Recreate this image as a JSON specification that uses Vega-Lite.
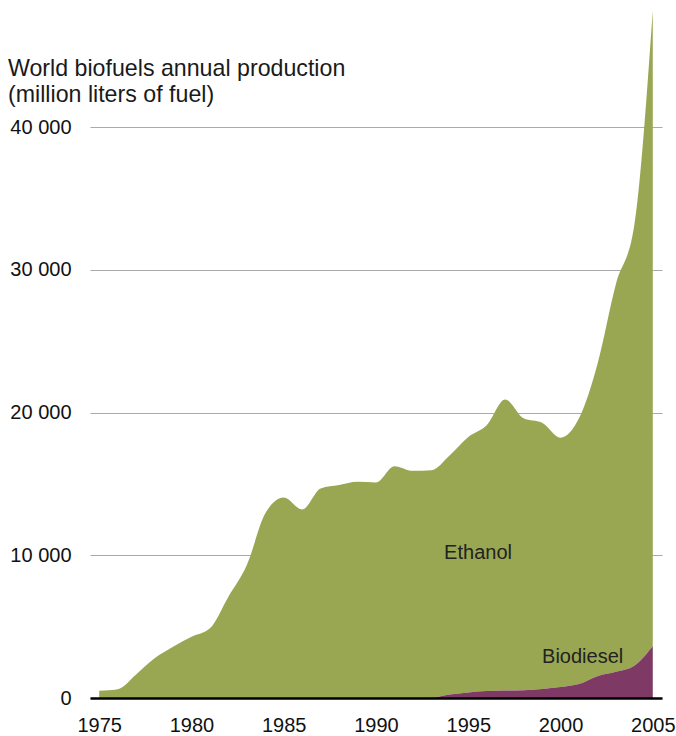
{
  "$schema": "https://vega.github.io/schema/vega-lite/v6.json",
  "autosize": "none",
  "width": 572,
  "height": 692,
  "padding": {"left": 90, "top": 6, "right": 14, "bottom": 38},
  "background": "white",
  "config": {
    "view": {"stroke": null},
    "font": "Liberation Sans"
  },
  "title": {
    "text": ["World biofuels annual production", "(million liters of fuel)"],
    "anchor": "start",
    "frame": "group",
    "orient": "top",
    "offset": 0,
    "dx": -82,
    "dy": 101,
    "fontSize": 23.2,
    "fontWeight": "normal",
    "font": "Liberation Sans",
    "color": "#1a1a1a",
    "lineHeight": 26
  },
  "datasets": {
    "fuel": [
      {"year": 1975, "fuel": "Ethanol", "value": 512},
      {"year": 1976, "fuel": "Ethanol", "value": 620},
      {"year": 1977, "fuel": "Ethanol", "value": 1650},
      {"year": 1978, "fuel": "Ethanol", "value": 2780},
      {"year": 1979, "fuel": "Ethanol", "value": 3590},
      {"year": 1980, "fuel": "Ethanol", "value": 4290},
      {"year": 1981, "fuel": "Ethanol", "value": 4880},
      {"year": 1982, "fuel": "Ethanol", "value": 7100},
      {"year": 1983, "fuel": "Ethanol", "value": 9320},
      {"year": 1984, "fuel": "Ethanol", "value": 12940},
      {"year": 1985, "fuel": "Ethanol", "value": 14060},
      {"year": 1986, "fuel": "Ethanol", "value": 13220},
      {"year": 1987, "fuel": "Ethanol", "value": 14690},
      {"year": 1988, "fuel": "Ethanol", "value": 14930},
      {"year": 1989, "fuel": "Ethanol", "value": 15150},
      {"year": 1990, "fuel": "Ethanol", "value": 15110},
      {"year": 1991, "fuel": "Ethanol", "value": 16250},
      {"year": 1992, "fuel": "Ethanol", "value": 15920},
      {"year": 1993, "fuel": "Ethanol", "value": 15940},
      {"year": 1994, "fuel": "Ethanol", "value": 16770},
      {"year": 1995, "fuel": "Ethanol", "value": 17910},
      {"year": 1996, "fuel": "Ethanol", "value": 18630},
      {"year": 1997, "fuel": "Ethanol", "value": 20400},
      {"year": 1998, "fuel": "Ethanol", "value": 19060},
      {"year": 1999, "fuel": "Ethanol", "value": 18660},
      {"year": 2000, "fuel": "Ethanol", "value": 17470},
      {"year": 2001, "fuel": "Ethanol", "value": 18620},
      {"year": 2002, "fuel": "Ethanol", "value": 21870},
      {"year": 2003, "fuel": "Ethanol", "value": 27160},
      {"year": 2004, "fuel": "Ethanol", "value": 30890},
      {"year": 2005, "fuel": "Ethanol", "value": 44560},
      {"year": 1975, "fuel": "Biodiesel", "value": 0},
      {"year": 1976, "fuel": "Biodiesel", "value": 0},
      {"year": 1977, "fuel": "Biodiesel", "value": 0},
      {"year": 1978, "fuel": "Biodiesel", "value": 0},
      {"year": 1979, "fuel": "Biodiesel", "value": 0},
      {"year": 1980, "fuel": "Biodiesel", "value": 0},
      {"year": 1981, "fuel": "Biodiesel", "value": 0},
      {"year": 1982, "fuel": "Biodiesel", "value": 0},
      {"year": 1983, "fuel": "Biodiesel", "value": 0},
      {"year": 1984, "fuel": "Biodiesel", "value": 0},
      {"year": 1985, "fuel": "Biodiesel", "value": 0},
      {"year": 1986, "fuel": "Biodiesel", "value": 0},
      {"year": 1987, "fuel": "Biodiesel", "value": 0},
      {"year": 1988, "fuel": "Biodiesel", "value": 0},
      {"year": 1989, "fuel": "Biodiesel", "value": 0},
      {"year": 1990, "fuel": "Biodiesel", "value": 0},
      {"year": 1991, "fuel": "Biodiesel", "value": 0},
      {"year": 1992, "fuel": "Biodiesel", "value": 0},
      {"year": 1993, "fuel": "Biodiesel", "value": 30},
      {"year": 1994, "fuel": "Biodiesel", "value": 250},
      {"year": 1995, "fuel": "Biodiesel", "value": 390},
      {"year": 1996, "fuel": "Biodiesel", "value": 490},
      {"year": 1997, "fuel": "Biodiesel", "value": 520},
      {"year": 1998, "fuel": "Biodiesel", "value": 540},
      {"year": 1999, "fuel": "Biodiesel", "value": 630},
      {"year": 2000, "fuel": "Biodiesel", "value": 770},
      {"year": 2001, "fuel": "Biodiesel", "value": 980},
      {"year": 2002, "fuel": "Biodiesel", "value": 1530},
      {"year": 2003, "fuel": "Biodiesel", "value": 1840},
      {"year": 2004, "fuel": "Biodiesel", "value": 2260},
      {"year": 2005, "fuel": "Biodiesel", "value": 3640}
    ],
    "labels": [
      {"year": 1995.53, "value": 10160, "label": "Ethanol"},
      {"year": 2001.2, "value": 2840, "label": "Biodiesel"}
    ]
  },
  "layer": [
    {
      "data": {"name": "fuel"},
      "mark": {"type": "area", "interpolate": "monotone"},
      "encoding": {
        "x": {
          "field": "year",
          "type": "quantitative",
          "scale": {"domain": [1974.5, 2005.5], "nice": false, "zero": false},
          "axis": {
            "title": null,
            "values": [1975, 1980, 1985, 1990, 1995, 2000, 2005],
            "format": "d",
            "grid": false,
            "ticks": false,
            "tickSize": 0,
            "domain": true,
            "domainColor": "#000000",
            "domainWidth": 2.5,
            "labelFontSize": 20,
            "labelFont": "Liberation Sans",
            "labelColor": "#111111",
            "labelPadding": 17,
            "zindex": 1
          }
        },
        "y": {
          "field": "value",
          "type": "quantitative",
          "stack": "zero",
          "scale": {"domain": [0, 48500], "nice": false},
          "axis": {
            "title": null,
            "values": [0, 10000, 20000, 30000, 40000],
            "labelExpr": "replace(format(datum.value, ','), ',', ' ')",
            "grid": true,
            "gridColor": "#aaaaaa",
            "gridWidth": 1.2,
            "ticks": false,
            "tickSize": 0,
            "domain": false,
            "labelFontSize": 20,
            "labelFont": "Liberation Sans",
            "labelColor": "#111111",
            "labelPadding": 19,
            "zindex": 0
          }
        },
        "color": {
          "field": "fuel",
          "type": "nominal",
          "scale": {"domain": ["Biodiesel", "Ethanol"], "range": ["#7e3a65", "#9aa752"]},
          "legend": null
        },
        "order": {"field": "fuel", "sort": "ascending"}
      }
    },
    {
      "data": {"name": "labels"},
      "mark": {"type": "text", "font": "Liberation Sans", "fontSize": 20, "color": "#222222", "align": "center", "baseline": "middle"},
      "encoding": {
        "x": {"field": "year", "type": "quantitative"},
        "y": {"field": "value", "type": "quantitative"},
        "text": {"field": "label"}
      }
    }
  ]
}
